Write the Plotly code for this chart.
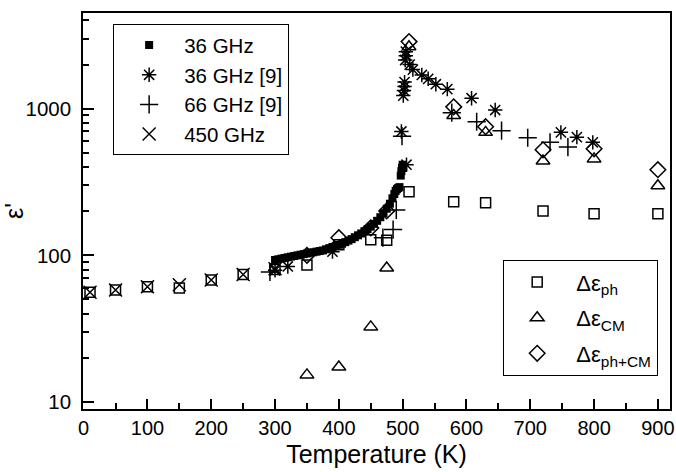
import plotly.graph_objects as go

# ---- data ----
T_36 = [300, 305, 310, 315, 320, 325, 330, 335, 340, 345, 350, 355, 360, 365, 370, 375,
        380, 385, 390, 395, 400, 405, 410, 415, 420, 425, 430, 435, 440, 445, 450, 455,
        460, 465, 470, 475, 480, 484, 487, 489, 491, 493, 495, 497, 498, 499, 500, 501]
eps_36 = [93, 94, 95, 96, 97, 98, 99, 100, 101, 102, 103, 104, 105, 106, 107, 108,
          110, 112, 114, 116, 118, 120, 123, 126, 129, 133, 137, 141, 146, 151, 157, 164,
          172, 182, 194, 208, 225, 245, 262, 275, 283, 288, 292, 350, 375, 395, 415, 400]

T_36r = [300, 320, 390, 506, 498, 501, 502, 503, 503, 504, 505, 505, 511, 516, 530, 540,
         552, 570, 608, 645, 748, 773, 798]
eps_36r = [79, 84, 106, 415, 700, 1230, 1330, 1420, 1520, 2150, 2300, 2450, 2000, 1850, 1700, 1600,
           1470, 1360, 1180, 980, 690, 640, 590]

T_66r = [292, 469, 485, 490, 499, 577, 616, 655, 696, 731, 759]
eps_66r = [77, 132, 150, 204, 650, 940, 815, 708, 634, 590, 548]

T_450 = [10, 50, 100, 150, 200, 250, 300]
eps_450 = [56, 58, 61, 63, 68, 74, 81]

T_ph = [10, 50, 100, 150, 200, 250, 300, 350, 400, 450, 475, 510, 580, 630, 720, 800, 900]
d_ph = [56, 58, 61, 60, 68, 74, 80, 86, 118, 128, 127, 271, 232, 228, 201, 192, 192]

T_cm = [350, 400, 450, 475, 510, 580, 630, 720, 800, 900]
d_cm = [15.3, 17.3, 32.5, 82, 2650, 900, 690, 440, 455, 298]

T_phcm = [350, 400, 450, 475, 510, 580, 630, 720, 800, 900]
d_phcm = [100, 132, 154, 201, 2870, 1030, 754, 525, 533, 384]

FONT = "Liberation Sans, Arial, sans-serif"
BLK = "black"
NB = "\u00a0"

fig = go.Figure()

def add(x, y, name, symbol, size, legend, group, lw=1.5):
    fig.add_trace(go.Scatter(
        x=x, y=y, mode="markers", name=name, legend=legend, legendgroup=group,
        marker=dict(symbol=symbol, size=size, color=BLK,
                    line=dict(color=BLK, width=lw)),
    ))

add(T_ph, d_ph, NB + "Δε<sub>ph</sub>", "square-open", 10, "legend2", "a")
add(T_cm, d_cm, NB + "Δε<sub>CM</sub>", "triangle-up-open", 12, "legend2", "b")
add(T_phcm, d_phcm, NB + "Δε<sub>ph+CM</sub>", "diamond-open", 12, "legend2", "c")
add(T_36, eps_36, "36 GHz", "square", 8, "legend", "d", lw=0)
add(T_36r, eps_36r, "36 GHz [9]", "asterisk-open", 12, "legend", "e")
add(T_66r, eps_66r, "66 GHz [9]", "cross-thin-open", 13, "legend", "f")
add(T_450, eps_450, "450 GHz", "x-thin-open", 13, "legend", "g")

minor_y = [v * d for d in (1, 10, 100) for v in range(20, 100, 10)] + [2000, 3000, 4000]

fig.update_layout(
    width=676, height=472,
    margin=dict(l=83, r=6, t=13, b=63),
    paper_bgcolor="white", plot_bgcolor="white",
    font=dict(family=FONT, size=20, color=BLK),
    legend=dict(
        x=0.051, y=0.972, xanchor="left", yanchor="top",
        bordercolor=BLK, borderwidth=1.2, bgcolor="white",
        font=dict(family=FONT, size=20.5, color=BLK),
        traceorder="normal", itemwidth=60, tracegroupgap=0,
    ),
    legend2=dict(
        x=0.7155, y=0.376, xanchor="left", yanchor="top",
        bordercolor=BLK, borderwidth=1.2, bgcolor="white",
        font=dict(family=FONT, size=22, color=BLK),
        traceorder="grouped", itemwidth=56, tracegroupgap=4,
    ),
    xaxis=dict(
        range=[-1, 919], showgrid=False, zeroline=False, automargin=False,
        showline=True, linecolor=BLK, linewidth=1.6, mirror=True,
        ticks="inside", ticklen=10, tickwidth=1.5, tickcolor=BLK,
        tickmode="array", tickvals=list(range(0, 1000, 100)),
        ticktext=[str(v) for v in range(0, 1000, 100)],
        minor=dict(ticks="inside", ticklen=6, tickwidth=1.5, tickcolor=BLK,
                   tickmode="array", tickvals=list(range(50, 950, 100))),
        tickfont=dict(family=FONT, size=20, color=BLK),
        title=dict(text="Temperature (K)", font=dict(family=FONT, size=25, color=BLK), standoff=8),
    ),
    yaxis=dict(
        type="log", range=[0.952, 3.653], showgrid=False, zeroline=False, automargin=False,
        showline=True, linecolor=BLK, linewidth=1.6, mirror=True,
        ticks="inside", ticklen=11, tickwidth=1.5, tickcolor=BLK,
        tickmode="array", tickvals=[10, 100, 1000], ticktext=["10", "100", "1000"],
        ticklabelstandoff=6,
        minor=dict(ticks="inside", ticklen=6, tickwidth=1.5, tickcolor=BLK,
                   tickmode="array", tickvals=minor_y),
        tickfont=dict(family=FONT, size=20.5, color=BLK),
        title=dict(text="ε'", font=dict(family=FONT, size=25, color=BLK), standoff=10),
    ),
)

fig.write_html("out.html")
